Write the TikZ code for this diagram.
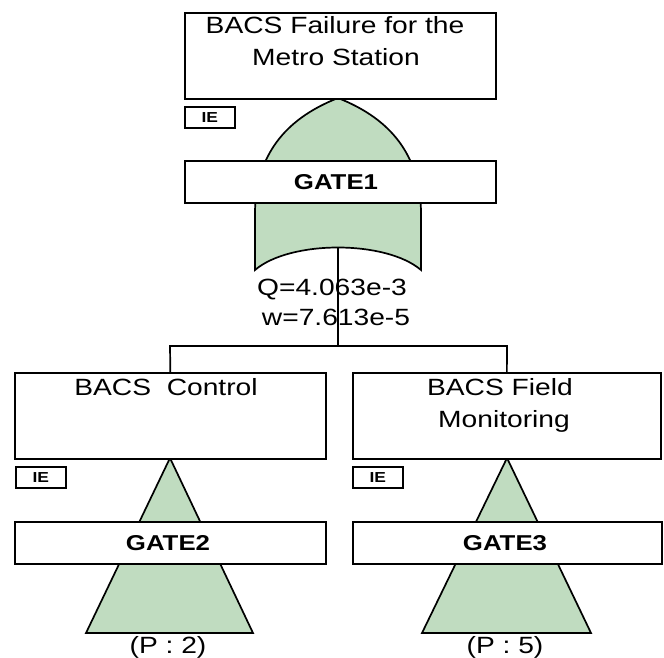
\documentclass[tikz,border=0pt]{standalone}
\usepackage{fontspec}
\newfontfamily\arialw[FakeStretch=1.2]{Liberation Sans}
\definecolor{gatefill}{RGB}{192,220,192}
\tikzset{
  box/.style={draw=black, line width=1.7pt, fill=white, inner sep=0pt, anchor=north west},
  gatebox/.style={box},
  iebox/.style={draw=black, line width=1.5pt, fill=white, inner sep=0pt, anchor=north west, minimum width=50pt, minimum height=21pt, font=\arialw\fontsize{14.5}{16}\selectfont\bfseries},
  txt/.style={inner sep=0pt, anchor=base, align=center, font=\arialw\fontsize{23.5}{32}\selectfont},
  gtxt/.style={inner sep=0pt, anchor=base, font=\arialw\fontsize{21.5}{24}\selectfont\bfseries},
  gateshape/.style={draw=black, line width=1.7pt, fill=gatefill, line join=miter},
  conn/.style={draw=black, line width=1.7pt}
}
\begin{document}
\begin{tikzpicture}[x=1pt,y=-1pt]
\useasboundingbox (0,0) rectangle (664,657);
% ---- OR gate (GATE1) ----
\coordinate (orapex) at (338,98);
\coordinate (orout) at (338,247);
\draw[gateshape] (orapex) .. controls (290,117) and (257,150) .. (255,210)
  -- (255,270) .. controls (290,240) and (386,240) .. (421,270)
  -- (421,210) .. controls (419,150) and (386,117) .. (orapex) -- cycle;
% ---- transfer triangles ----
\coordinate (t2apex) at (170,458);
\coordinate (t3apex) at (507,458);
\draw[gateshape] (t2apex) -- (253,633) -- (86,633) -- cycle;
\draw[gateshape] (t3apex) -- (591,633) -- (422,633) -- cycle;
% ---- event boxes ----
\node[box, minimum width=311pt, minimum height=86pt] (top) at (184,12) {};
\node[box, minimum width=311pt, minimum height=86pt] (ctrl) at (14,372) {};
\node[box, minimum width=308pt, minimum height=86pt] (field) at (352,372) {};
% ---- IE tags ----
\node[iebox] (ie1) at (184,106) {IE};
\node[iebox] (ie2) at (15,466) {IE};
\node[iebox] (ie3) at (352,466) {IE};
% ---- gate label boxes ----
\node[gatebox, minimum width=311pt, minimum height=42pt] (g1) at (184,160) {};
\node[gatebox, minimum width=311pt, minimum height=42pt] (g2) at (14,521) {};
\node[gatebox, minimum width=309pt, minimum height=42pt] (g3) at (352,521) {};
% ---- texts ----
\node[txt] (topt1) at (335,33) {BACS Failure for the};
\node[txt] (topt2) at (336,65) {Metro Station};
\node[txt] (ctrlt) at (166,395) {BACS\ \ Control};
\node[txt] (fieldt1) at (500,395) {BACS Field};
\node[txt] (fieldt2) at (504,427) {Monitoring};
\node[gtxt] (g1t) at (336,189) {GATE1};
\node[gtxt] (g2t) at (168,550) {GATE2};
\node[gtxt] (g3t) at (505,550) {GATE3};
% ---- connectors ----
\coordinate (bar) at (338,346);
\coordinate (barl) at (170,346);
\coordinate (barr) at (507,346);
\draw[conn] (orout) -- (bar);
\draw[conn] (ctrl.north) -- (barl) -- (barr) -- (field.north);
% ---- values ----
\node[txt] (q) at (332,295) {Q=4.063e-3};
\node[txt] (w) at (336,325) {w=7.613e-5};
\node[txt] (p2) at (168,653) {(P : 2)};
\node[txt] (p5) at (505,653) {(P : 5)};
\end{tikzpicture}
\end{document}
